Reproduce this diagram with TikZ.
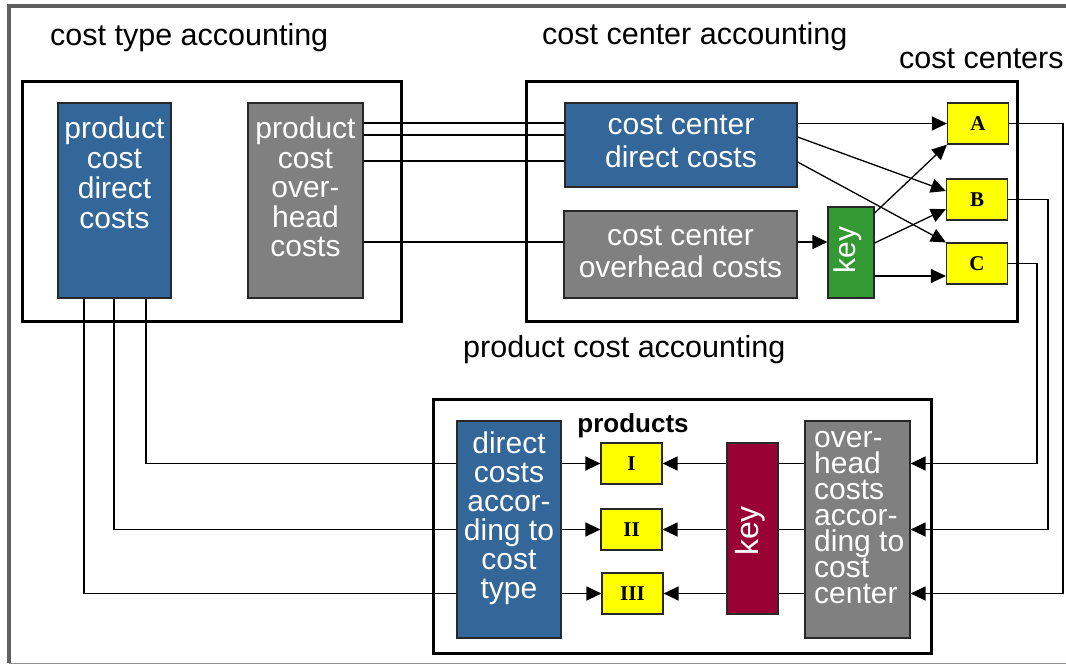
\documentclass[tikz,border=0pt]{standalone}
\usepackage{fontspec}
\setmainfont{Liberation Sans}
\newfontfamily\tagfont{Liberation Serif}
\usetikzlibrary{arrows.meta}

\definecolor{ccblue}{RGB}{51,102,153}
\definecolor{ccgray}{RGB}{128,128,128}
\definecolor{ccgreen}{RGB}{51,153,51}
\definecolor{ccred}{RGB}{153,0,51}
\definecolor{ccyellow}{RGB}{255,255,0}
\definecolor{frameline}{RGB}{96,96,96}
\definecolor{edge}{RGB}{40,40,40}

% fixed line pitch regardless of glyph heights
\newcommand\tightskip{\lineskiplimit=-30pt\lineskip=0pt\relax}

\tikzset{
  container/.style={draw=black, line width=3pt, inner sep=0pt},
  blk/.style={draw=edge, line width=1.2pt, inner sep=0pt},
  tagbox/.style={draw=edge, line width=1.2pt, fill=ccyellow, inner sep=0pt,
    minimum width=61pt, minimum height=41pt,
    font=\tagfont\bfseries\fontsize{21}{21}\selectfont},
  title/.style={anchor=base west, inner sep=0pt, font=\fontsize{30.5}{30.5}\selectfont},
  wtxt/.style={text=white, inner sep=0pt, align=center},
  conn/.style={draw=black, line width=1.3pt},
  arr/.style={conn, -{Triangle[length=15pt,width=14pt]}},
}

\begin{document}
\begin{tikzpicture}[x=1pt, y=-1pt]
\useasboundingbox (0,0) rectangle (1066,664);
\fill[white] (0,0) rectangle (1066,664);

% page frame
\draw[frameline, line width=4pt] (9,663) -- (9,6) -- (1066,6);
\draw[frameline!70, line width=1pt] (9,663) -- (1066,663);

% section headings
\node[title] (hType) at (50,45) {cost type accounting};
\node[title] (hCenter) at (542,44) {cost center accounting};
\node[title] (hCenters) at (899,68) {cost centers};
\node[title] (hProduct) at (463,357) {product cost accounting};

% cost type accounting
\node[container, minimum width=379pt, minimum height=240pt] (ctbox) at (211.5,201) {};
\node[blk, fill=ccblue, minimum width=113pt, minimum height=195pt] (pcd) at (114.5,200.5) {};
\node[wtxt, anchor=north, font=\fontsize{30}{30}\selectfont\tightskip]
  (pcdT) at (114.5,117) {product\\cost\\direct\\costs};
\node[blk, fill=ccgray, minimum width=115pt, minimum height=195pt] (pco) at (305.5,200.5) {};
\node[wtxt, anchor=north, font=\fontsize{30}{29.5}\selectfont\tightskip]
  (pcoT) at (305.5,117) {product\\cost\\over-\\head\\costs};

% cost center accounting
\node[container, minimum width=491pt, minimum height=240pt] (ccbox) at (771.5,201) {};
\node[blk, fill=ccblue, minimum width=232pt, minimum height=84pt] (ccd) at (681,145) {};
\node[wtxt, anchor=north, font=\fontsize{30}{33}\selectfont\tightskip]
  (ccdT) at (681,115) {cost center\\direct costs};
\node[blk, fill=ccgray, minimum width=233pt, minimum height=87pt] (cco) at (680.5,254.5) {};
\node[wtxt, anchor=north, font=\fontsize{30}{32}\selectfont\tightskip]
  (ccoT) at (680.5,226) {cost center\\overhead costs};
\node[blk, fill=ccgreen, minimum width=46pt, minimum height=91pt] (gkey) at (851,252.5) {};
\node[wtxt, rotate=90, font=\fontsize{30}{30}\selectfont] (gkeyT) at (848,250) {key};

\node[tagbox] (A) at (978,123.5) {A};
\node[tagbox] (B) at (977,199.5) {B};
\node[tagbox] (C) at (977,263.5) {C};

% product cost accounting
\node[container, minimum width=498pt, minimum height=254pt] (pcbox) at (682,526) {};
\node[blk, fill=ccblue, minimum width=104pt, minimum height=217pt] (pdt) at (509,529.5) {};
\node[wtxt, anchor=north, font=\fontsize{30}{29}\selectfont\tightskip]
  (pdtT) at (509,431.5) {direct\\costs\\accor-\\ding to\\cost\\type};
\node[anchor=base, inner sep=0pt, font=\bfseries\fontsize{26}{26}\selectfont]
  (prods) at (633,432.5) {products};
\node[tagbox] (I) at (631.5,463.5) {I};
\node[tagbox] (II) at (631.5,529.5) {II};
\node[tagbox] (III) at (632.5,593.5) {III};
\node[blk, fill=ccred, minimum width=51pt, minimum height=171pt] (pkey) at (752.5,528.5) {};
\node[wtxt, rotate=90, font=\fontsize{32}{32}\selectfont] (pkeyT) at (750,531) {key};
\node[blk, fill=ccgray, minimum width=105pt, minimum height=217pt] (poc) at (857.5,529.5) {};
\node[wtxt, anchor=north west, align=left, font=\fontsize{30}{26}\selectfont\tightskip]
  (pocT) at (814,431) {over-\\head\\costs\\accor-\\ding to\\cost\\center};

% rails of the long connectors
\coordinate (lI) at (146,0);
\coordinate (lII) at (114,0);
\coordinate (lIII) at (84,0);
\coordinate (rA) at (1063,0);
\coordinate (rB) at (1048,0);
\coordinate (rC) at (1037,0);

% cost types to cost centers
\draw[conn] (pco.east |- 0,123) -- (ccd.west |- 0,123);
\draw[conn] (pco.east |- 0,135) -- (ccd.west |- 0,135);
\draw[conn] (pco.east |- 0,161) -- (ccd.west |- 0,161);
\draw[conn] (pco.east |- 0,242) -- (cco.west |- 0,242);

% distribution onto the cost centers
\draw[arr] (ccd.east |- A) -- (A.west);
\draw[arr] (ccd.east |- 0,137) -- (B.west |- 0,191);
\draw[arr] (ccd.east |- 0,162) -- (C.north west);
\draw[arr] (cco.east |- 0,242) -- (gkey.west |- 0,242);
\draw[arr] (gkey.east |- 0,213) -- (A.south west);
\draw[arr] (gkey.east |- 0,243) -- (B.west |- 0,209);
\draw[arr] (gkey.east |- 0,276) -- (C.west |- 0,276);

% cost centers to overhead costs of the products
\draw[arr] (A.east) -| (rA |- III) -- (poc.east |- III);
\draw[arr] (B.east) -| (rB |- II) -- (poc.east |- II);
\draw[arr] (C.east) -| (rC |- I) -- (poc.east |- I);

% direct costs to the products
\draw[conn] (pcd.south -| lI) -- (lI |- I) -- (pdt.west |- I);
\draw[conn] (pcd.south -| lII) -- (lII |- II) -- (pdt.west |- II);
\draw[conn] (pcd.south -| lIII) -- (lIII |- III) -- (pdt.west |- III);
\draw[arr] (pdt.east |- I) -- (I.west);
\draw[arr] (pdt.east |- II) -- (II.west);
\draw[arr] (pdt.east |- III) -- (III.west);

% overhead costs through the key to the products
\draw[conn] (poc.west |- I) -- (pkey.east |- I);
\draw[conn] (poc.west |- II) -- (pkey.east |- II);
\draw[conn] (poc.west |- III) -- (pkey.east |- III);
\draw[arr] (pkey.west |- I) -- (I.east);
\draw[arr] (pkey.west |- II) -- (II.east);
\draw[arr] (pkey.west |- III) -- (III.east);
\end{tikzpicture}
\end{document}
